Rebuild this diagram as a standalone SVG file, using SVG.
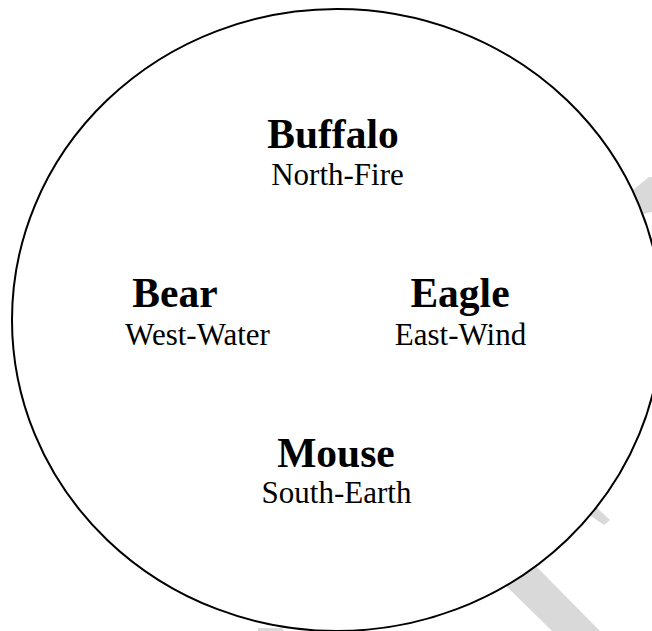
<svg xmlns="http://www.w3.org/2000/svg" width="652" height="631" viewBox="0 0 652 631">
  <style>
    .title { font-family: "Liberation Serif", "Times New Roman", serif; font-weight: bold; font-size: 41.5px; fill: #000; text-anchor: middle; }
    .sub { font-family: "Liberation Serif", "Times New Roman", serif; font-size: 31px; fill: #000; text-anchor: middle; }
    .shade { fill: #d9d9d9; stroke: none; }
  </style>
  <rect width="652" height="631" fill="#fff"/>
  <g id="shadows">
    <polygon class="shade" points="490,570 520,550 600,631 552,631"/>
    <polygon class="shade" points="588,514 596,507 610,520 604,525"/>
    <polygon class="shade" points="628,194 649,177 652,177 652,212 643,214"/>
    <polygon class="shade" points="258,628 282,628 284,631 258,631"/>
  </g>
  <g id="circle">
    <ellipse cx="337" cy="320" rx="325" ry="311" fill="#fff" stroke="#000" stroke-width="2"/>
  </g>
  <g id="node-buffalo">
    <text class="title" x="333" y="148">Buffalo</text>
    <text class="sub" x="337.5" y="185">North-Fire</text>
  </g>
  <g id="node-bear">
    <text class="title" x="175" y="307">Bear</text>
    <text class="sub" x="197.5" y="345">West-Water</text>
  </g>
  <g id="node-eagle">
    <text class="title" x="460" y="307">Eagle</text>
    <text class="sub" x="460.5" y="345">East-Wind</text>
  </g>
  <g id="node-mouse">
    <text class="title" x="336" y="467">Mouse</text>
    <text class="sub" x="336.5" y="503">South-Earth</text>
  </g>
</svg>
